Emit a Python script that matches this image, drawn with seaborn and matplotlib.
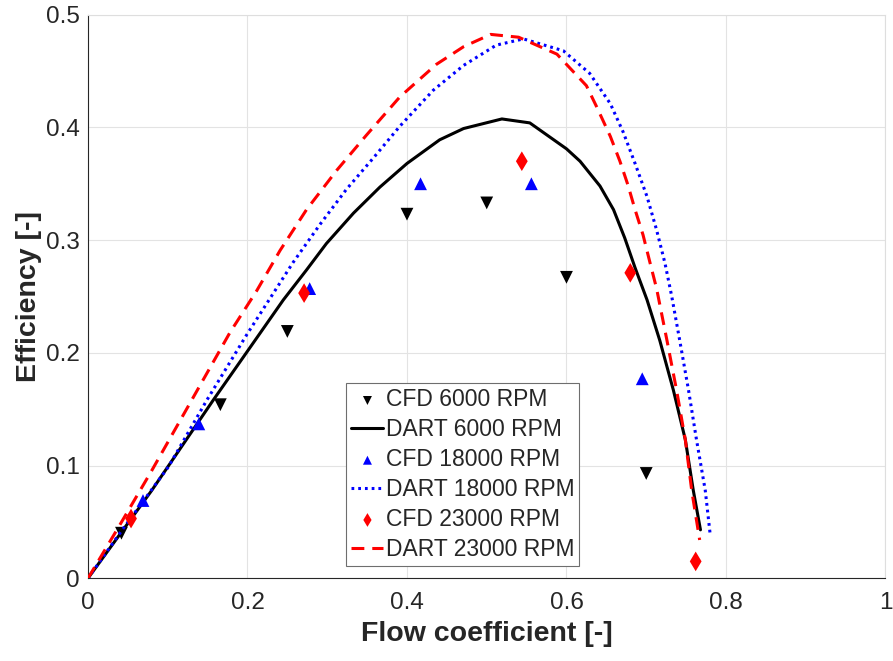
import matplotlib
matplotlib.use("Agg")
import matplotlib.pyplot as plt
import seaborn as sns

# CFD results (markers)
cfd_6000_x = [0.042, 0.166, 0.250, 0.400, 0.500, 0.600, 0.700]
cfd_6000_y = [0.040, 0.154, 0.219, 0.323, 0.333, 0.267, 0.093]
cfd_18000_x = [0.069, 0.139, 0.278, 0.417, 0.556, 0.695]
cfd_18000_y = [0.069, 0.137, 0.257, 0.350, 0.350, 0.177]
cfd_23000_x = [0.054, 0.271, 0.544, 0.680, 0.762]
cfd_23000_y = [0.053, 0.253, 0.370, 0.271, 0.015]

# DART model curves
dart_6000_x = [0, 0.080, 0.157, 0.245, 0.274, 0.299, 0.333, 0.366, 0.400, 0.441, 0.471,
               0.519, 0.554, 0.600, 0.617, 0.642, 0.659, 0.673, 0.686, 0.701, 0.717,
               0.734, 0.749, 0.759, 0.768]
dart_6000_y = [0, 0.078, 0.158, 0.247, 0.2735, 0.297, 0.324, 0.347, 0.368, 0.389, 0.399,
               0.4075, 0.404, 0.381, 0.370, 0.348, 0.327, 0.302, 0.2755, 0.247, 0.211,
               0.167, 0.123, 0.078, 0.043]
dart_18000_x = [0, 0.046, 0.101, 0.149, 0.199, 0.228, 0.257, 0.291, 0.324, 0.358, 0.391,
                0.433, 0.471, 0.512, 0.546, 0.596, 0.629, 0.655, 0.671, 0.686, 0.701,
                0.713, 0.7235, 0.732, 0.742, 0.753, 0.763, 0.774, 0.780]
dart_18000_y = [0, 0.046, 0.099, 0.158, 0.216, 0.248, 0.280, 0.314, 0.345, 0.373, 0.401,
                0.433, 0.455, 0.473, 0.4785, 0.468, 0.448, 0.421, 0.396, 0.368, 0.3386,
                0.309, 0.2795, 0.250, 0.211, 0.167, 0.123, 0.078, 0.040]
dart_23000_x = [0, 0.038, 0.080, 0.130, 0.178, 0.2115, 0.241, 0.274, 0.312, 0.349, 0.391,
                0.437, 0.471, 0.505, 0.540, 0.588, 0.625, 0.638, 0.655, 0.667, 0.677,
                0.686, 0.696, 0.704, 0.713, 0.726, 0.738, 0.749, 0.757, 0.767]
dart_23000_y = [0, 0.045, 0.0956, 0.158, 0.218, 0.255, 0.291, 0.327, 0.362, 0.393, 0.427,
                0.456, 0.4716, 0.4825, 0.480, 0.465, 0.437, 0.418, 0.392, 0.370, 0.349,
                0.327, 0.3046, 0.282, 0.257, 0.211, 0.167, 0.123, 0.078, 0.034]

x_ticks = [0, 0.2, 0.4, 0.6, 0.8, 1]
x_tick_labels = ["0", "0.2", "0.4", "0.6", "0.8", "1"]
y_ticks = [0, 0.1, 0.2, 0.3, 0.4, 0.5]
y_tick_labels = ["0", "0.1", "0.2", "0.3", "0.4", "0.5"]

sns.set_style("white")
plt.rcParams["font.family"] = ["Liberation Sans", "DejaVu Sans"]

dark = "#262626"
fig, ax = plt.subplots(figsize=(8.93, 6.61), dpi=100)
fig.subplots_adjust(left=0.0985, right=0.9916, top=0.9778, bottom=0.1251)

lw = 2.2
sns.scatterplot(x=cfd_6000_x, y=cfd_6000_y, marker="v", s=85, color="black",
                edgecolor="none", label="CFD 6000 RPM", ax=ax, zorder=3)
sns.lineplot(x=dart_6000_x, y=dart_6000_y, sort=False, estimator=None, color="black",
             linewidth=lw, label="DART 6000 RPM", ax=ax, zorder=3)
sns.scatterplot(x=cfd_18000_x, y=cfd_18000_y, marker="^", s=85, color="blue",
                edgecolor="none", label="CFD 18000 RPM", ax=ax, zorder=3)
sns.lineplot(x=dart_18000_x, y=dart_18000_y, sort=False, estimator=None, color="blue",
             linewidth=lw, label="DART 18000 RPM", ax=ax, zorder=3)
ax.lines[-1].set_dashes([0.9, 1.3])
sns.scatterplot(x=cfd_23000_x, y=cfd_23000_y, marker="d", s=100, color="red",
                edgecolor="none", label="CFD 23000 RPM", ax=ax, zorder=3)
sns.lineplot(x=dart_23000_x, y=dart_23000_y, sort=False, estimator=None, color="red",
             linewidth=lw, label="DART 23000 RPM", ax=ax, zorder=3)
ax.lines[-1].set_dashes([4.2, 2.6])

ax.set_xlim(0, 1)
ax.set_ylim(0, 0.5)
ax.set_xticks(x_ticks)
ax.set_xticklabels(x_tick_labels)
ax.set_yticks(y_ticks)
ax.set_yticklabels(y_tick_labels)
ax.tick_params(direction="in", length=5, width=0.8, colors=dark, labelsize=17.5,
               top=False, right=False)
ax.tick_params(axis="x", pad=10)
ax.tick_params(axis="y", pad=6)
ax.grid(True, color="#e3e3e3", linewidth=0.8)
ax.set_axisbelow(True)

for side in ["left", "bottom"]:
    ax.spines[side].set_color(dark)
    ax.spines[side].set_linewidth(0.8)
for side in ["top", "right"]:
    ax.spines[side].set_color("#dedede")
    ax.spines[side].set_linewidth(0.8)

ax.set_xlabel("Flow coefficient [-]", fontsize=20.5, fontweight="bold", color=dark, labelpad=5)
ax.set_ylabel("Efficiency [-]", fontsize=20.5, fontweight="bold", color=dark, labelpad=3)

order = ["CFD 6000 RPM", "DART 6000 RPM", "CFD 18000 RPM",
         "DART 18000 RPM", "CFD 23000 RPM", "DART 23000 RPM"]
handles, labels = ax.get_legend_handles_labels()
lookup = dict(zip(labels, handles))
leg = ax.legend([lookup[k] for k in order], order, loc="lower left",
                bbox_to_anchor=(0.324, 0.022), fontsize=16.5, frameon=True,
                fancybox=False, framealpha=1, edgecolor="#6e6e6e",
                handlelength=1.4, handletextpad=0.1, labelspacing=0.3,
                borderpad=0.22, borderaxespad=0, markerscale=0.7)
leg.get_frame().set_linewidth(0.8)

fig.savefig("out.png", dpi=100)
